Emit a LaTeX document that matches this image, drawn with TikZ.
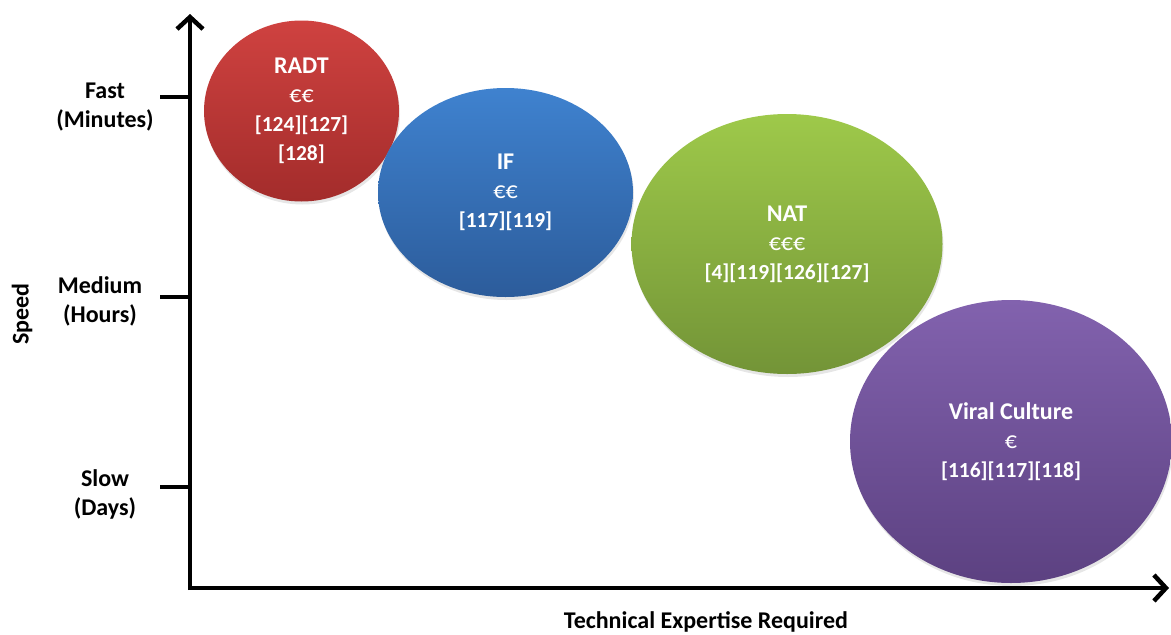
\documentclass[tikz,border=0pt]{standalone}
\usepackage{fontspec}
\setmainfont{Carlito}
\usepackage{tikz}
\usetikzlibrary{
	arrows.meta,
	shapes.geometric,
	shadows
}

\definecolor{radttop}{HTML}{CF4240}
\definecolor{radtbot}{HTML}{A32C2B}
\definecolor{iftop}{HTML}{3F82CF}
\definecolor{ifbot}{HTML}{2C5C9B}
\definecolor{nattop}{HTML}{9EC94A}
\definecolor{natbot}{HTML}{739437}
\definecolor{virtop}{HTML}{8262AE}
\definecolor{virbot}{HTML}{5C4181}

\tikzset{
	blob/.style={ellipse,inner sep=0pt,text=white,align=center,
		font=\fontsize{24}{29}\selectfont\bfseries,
		drop shadow={opacity=0.2,shadow xshift=1pt,shadow yshift=-3pt}},
	axislabel/.style={align=center,font=\fontsize{24}{29}\selectfont\bfseries}
}

\newcommand{\eur}[1]{{\mdseries #1}}
\newcommand{\refs}[1]{{\fontsize{21.5}{29}\selectfont #1}}

\begin{document}
\begin{tikzpicture}[x=1pt,y=-1pt]
		\useasboundingbox (0,0) rectangle (1171,635);

		\node[blob,minimum width=195,minimum height=181,
			top color=radttop,bottom color=radtbot] (radt) at (301.5,111)
			{RADT\\\eur{€€}\\\refs{[124][127]}\\\refs{[128]}};
		\node[blob,minimum width=255,minimum height=209,
			top color=iftop,bottom color=ifbot] (if) at (505.5,192.5)
			{IF\\\eur{€€}\\\refs{[117][119]}};
		\node[blob,minimum width=311,minimum height=260,
			top color=nattop,bottom color=natbot] (nat) at (787,244)
			{NAT\\\eur{€€€}\\\refs{[4][119][126][127]}};
		\node[blob,minimum width=322,minimum height=283,
			top color=virtop,bottom color=virbot] (viral) at (1011,441.5)
			{Viral Culture\\\eur{€}\\\refs{[116][117][118]}};

		% axes
		\coordinate (origin) at (190,588);
		\coordinate (ytop) at (190,14);
		\coordinate (xend) at (1169,588);
		\draw[line width=4pt,-{Straight Barb[length=12pt,width=26pt,line width=4.5pt]}]
			([yshift=-2pt]origin) -- (ytop);
		\draw[line width=4pt,-{Straight Barb[length=12pt,width=26pt,line width=4.5pt]}]
			([xshift=-2pt]origin) -- (xend);

		\foreach \ty/\tname in {97/fasttick,297/medtick,487/slowtick}
			\draw[line width=4pt] (160,\ty) -- (190,\ty) coordinate (\tname);

		\node[axislabel] (fast) at (105,107) {Fast\\(Minutes)};
		\node[axislabel] (medium) at (100,301) {Medium\\(Hours)};
		\node[axislabel] (slow) at (105,494) {Slow\\(Days)};

		\node[axislabel,rotate=90] (speed) at (22,314) {Speed};
		\node[axislabel] (expertise) at (706,622) {Technical Expertise Required};
	\end{tikzpicture}
\end{document}
